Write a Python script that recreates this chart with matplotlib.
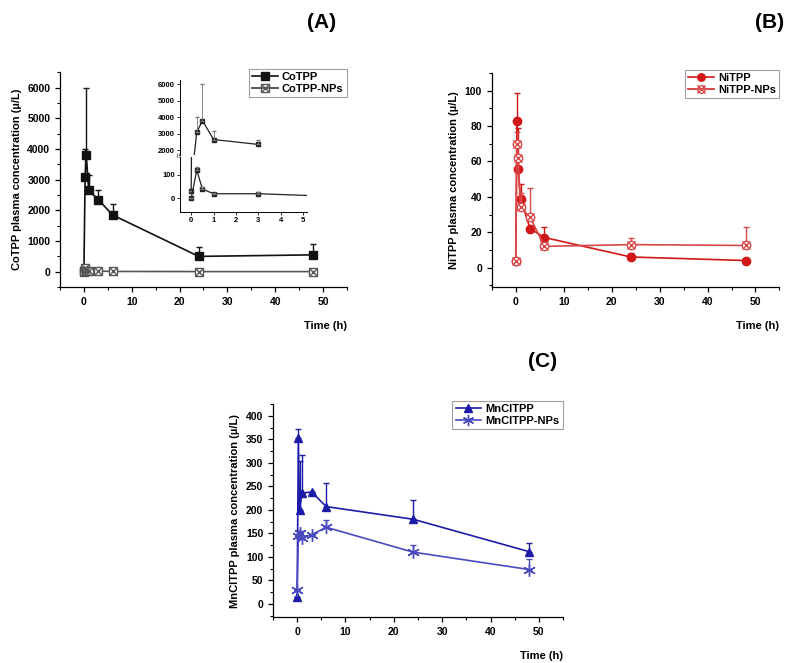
import numpy as np
import matplotlib
matplotlib.use("Agg")
import matplotlib.pyplot as plt
from matplotlib.lines import Line2D
from matplotlib.legend_handler import HandlerTuple
from matplotlib.ticker import AutoMinorLocator, MultipleLocator

plt.rcParams['font.family'] = ['Liberation Sans', 'DejaVu Sans']
plt.rcParams['font.weight'] = 'bold'
plt.rcParams['axes.labelweight'] = 'bold'

# sampling times (h)
time = [0, 0.25, 0.5, 1, 3, 6, 24, 48]

# (A) CoTPP
co_free = [30, 3100, 3800, 2650, 2350, 1850, 500, 550]
co_free_err = [0, 900, 2200, 500, 300, 350, 300, 350]
co_np = [0, 120, 40, 20, 20, 10, 5, 5]
co_np_err = [0, 15, 10, 4, 8, 0, 0, 0]

# (B) NiTPP
ni_free = [3.5, 83, 56, 39, 22, 17, 6, 4]
ni_free_err = [0, 15.5, 23, 8.5, 0, 6, 2, 0]
ni_np = [3.5, 70, 62, 34, 28.5, 12, 13, 12.5]
ni_np_err = [0, 6.5, 0, 8, 16.5, 0, 4, 10.5]

# (C) MnClTPP
mn_free = [15, 352, 200, 236, 238, 207, 180, 111]
mn_free_err = [0, 21, 105, 80, 0, 50, 41, 19]
mn_np = [30, 145, 150, 140, 147, 163, 110, 73]
mn_np_err = [0, 10, 0, 15, 0, 15, 15, 22]


def up_err(err):
    return [np.zeros(len(err)), err]


def series(ax, y, err, color, markers, ms, label):
    ax.errorbar(time, y, yerr=up_err(err), fmt='none', ecolor=color,
                elinewidth=1, capsize=2.5, capthick=1)
    ax.plot(time, y, color=color, lw=1.2)
    for m, filled in markers:
        ax.plot(time, y, ls='none', marker=m, ms=ms, color=color,
                mfc=color if filled else 'white', mew=1)
    h = tuple(Line2D([], [], color=color, lw=1.2, marker=m, ms=ms * 0.9,
                     mfc=color if filled else 'white', mew=1)
              for m, filled in markers)
    return h, label


def style_axes(ax, xlim, ylim, ymajor, tick_fs=7.5):
    ax.set_xlim(*xlim)
    ax.set_ylim(*ylim)
    ax.spines['top'].set_visible(False)
    ax.spines['right'].set_visible(False)
    ax.xaxis.set_major_locator(MultipleLocator(10))
    ax.xaxis.set_minor_locator(AutoMinorLocator(2))
    ax.yaxis.set_major_locator(MultipleLocator(ymajor))
    ax.yaxis.set_minor_locator(AutoMinorLocator(2))
    ax.tick_params(direction='out', labelsize=tick_fs, length=3.5, width=0.9)
    ax.tick_params(which='minor', direction='out', length=2, width=0.8)
    for s in ('left', 'bottom'):
        ax.spines[s].set_linewidth(0.9)
    ax.set_xlabel('Time (h)', fontsize=8, loc='right', labelpad=10)


def legend(ax, items):
    handles = [h for h, _ in items]
    labels = [l for _, l in items]
    lg = ax.legend(handles, labels, loc='upper right', bbox_to_anchor=(1.0, 1.015),
                   fontsize=8, frameon=True, fancybox=False, handlelength=2.3,
                   borderpad=0.3, labelspacing=0.15, handletextpad=0.4,
                   borderaxespad=0.0,
                   handler_map={tuple: HandlerTuple(ndivide=1, pad=0)})
    lg.get_frame().set_edgecolor('#888888')
    lg.get_frame().set_linewidth(0.8)


fig = plt.figure(figsize=(7.97, 6.63), dpi=100)

# ---------- (A) ----------
axA = fig.add_axes([0.0753, 0.567, 0.360, 0.324])
black = '#111111'
grey = '#555555'
itA = [series(axA, co_free, co_free_err, black, [('s', True)], 6, 'CoTPP'),
       series(axA, co_np, co_np_err, grey, [('s', False), ('x', False)], 6, 'CoTPP-NPs')]
style_axes(axA, (-5, 55), (-500, 6500), 1000)
axA.set_ylabel('CoTPP plasma concentration (µ/L)', fontsize=8)
legend(axA, itA)

# inset with broken y axis
in_lo = fig.add_axes([0.2258, 0.680, 0.159, 0.083])
in_hi = fig.add_axes([0.2258, 0.766, 0.159, 0.113])
for ax in (in_lo, in_hi):
    ax.plot(time[:5], co_free[:5], color='#222222', marker='s', ms=2.5, lw=0.9)
    ax.errorbar(time[:5], co_free[:5], yerr=up_err(co_free_err[:5]), fmt='none',
                ecolor='#777777', elinewidth=0.6, capsize=1.2)
    ax.plot(time, co_np, color='#222222', marker='s', ms=2.5, lw=0.9)
    ax.errorbar(time, co_np, yerr=up_err(co_np_err), fmt='none',
                ecolor='#777777', elinewidth=0.6, capsize=1.2)
    ax.set_xlim(-0.5, 5.15)
    ax.patch.set_alpha(0)
    ax.spines['top'].set_visible(False)
    ax.spines['right'].set_visible(False)
    ax.tick_params(labelsize=5.5, length=2, width=0.6, pad=1.5)
    for s in ('left', 'bottom'):
        ax.spines[s].set_linewidth(0.7)
in_lo.set_ylim(-58, 175)
in_lo.set_yticks([0, 100])
in_lo.set_xticks([0, 1, 2, 3, 4, 5])
in_hi.set_ylim(1700, 6254)
in_hi.set_yticks([2000, 3000, 4000, 5000, 6000])
in_hi.spines['bottom'].set_visible(False)
in_hi.set_xticks([])
in_hi.text(-0.5, 1700, '≈', fontsize=6, ha='center', va='center',
           color='#555555', rotation=90)

fig.text(0.404, 0.966, '(A)', fontsize=15, ha='center', va='center')

# ---------- (B) ----------
axB = fig.add_axes([0.617, 0.567, 0.361, 0.323])
red = '#d01818'
itB = [series(axB, ni_free, ni_free_err, red, [('o', True)], 6, 'NiTPP'),
       series(axB, ni_np, ni_np_err, '#d84848', [('o', False), ('x', False)], 6, 'NiTPP-NPs')]
style_axes(axB, (-5, 55), (-11, 110), 20)
axB.set_ylabel('NiTPP plasma concentration (µ/L)', fontsize=8)
legend(axB, itB)
fig.text(0.966, 0.966, '(B)', fontsize=15, ha='center', va='center')

# ---------- (C) ----------
axC = fig.add_axes([0.3425, 0.0694, 0.364, 0.321])
blue = '#1c1ca8'
itC = [series(axC, mn_free, mn_free_err, blue, [('^', True)], 6, 'MnClTPP'),
       series(axC, mn_np, mn_np_err, '#4a4ac0', [((6, 2, 0), False)], 9, 'MnClTPP-NPs')]
style_axes(axC, (-5, 55), (-28, 425), 50)
axC.set_ylabel('MnClTPP plasma concentration (µ/L)', fontsize=8)
legend(axC, itC)
fig.text(0.681, 0.454, '(C)', fontsize=15, ha='center', va='center')

fig.savefig('out.png', dpi=100)
